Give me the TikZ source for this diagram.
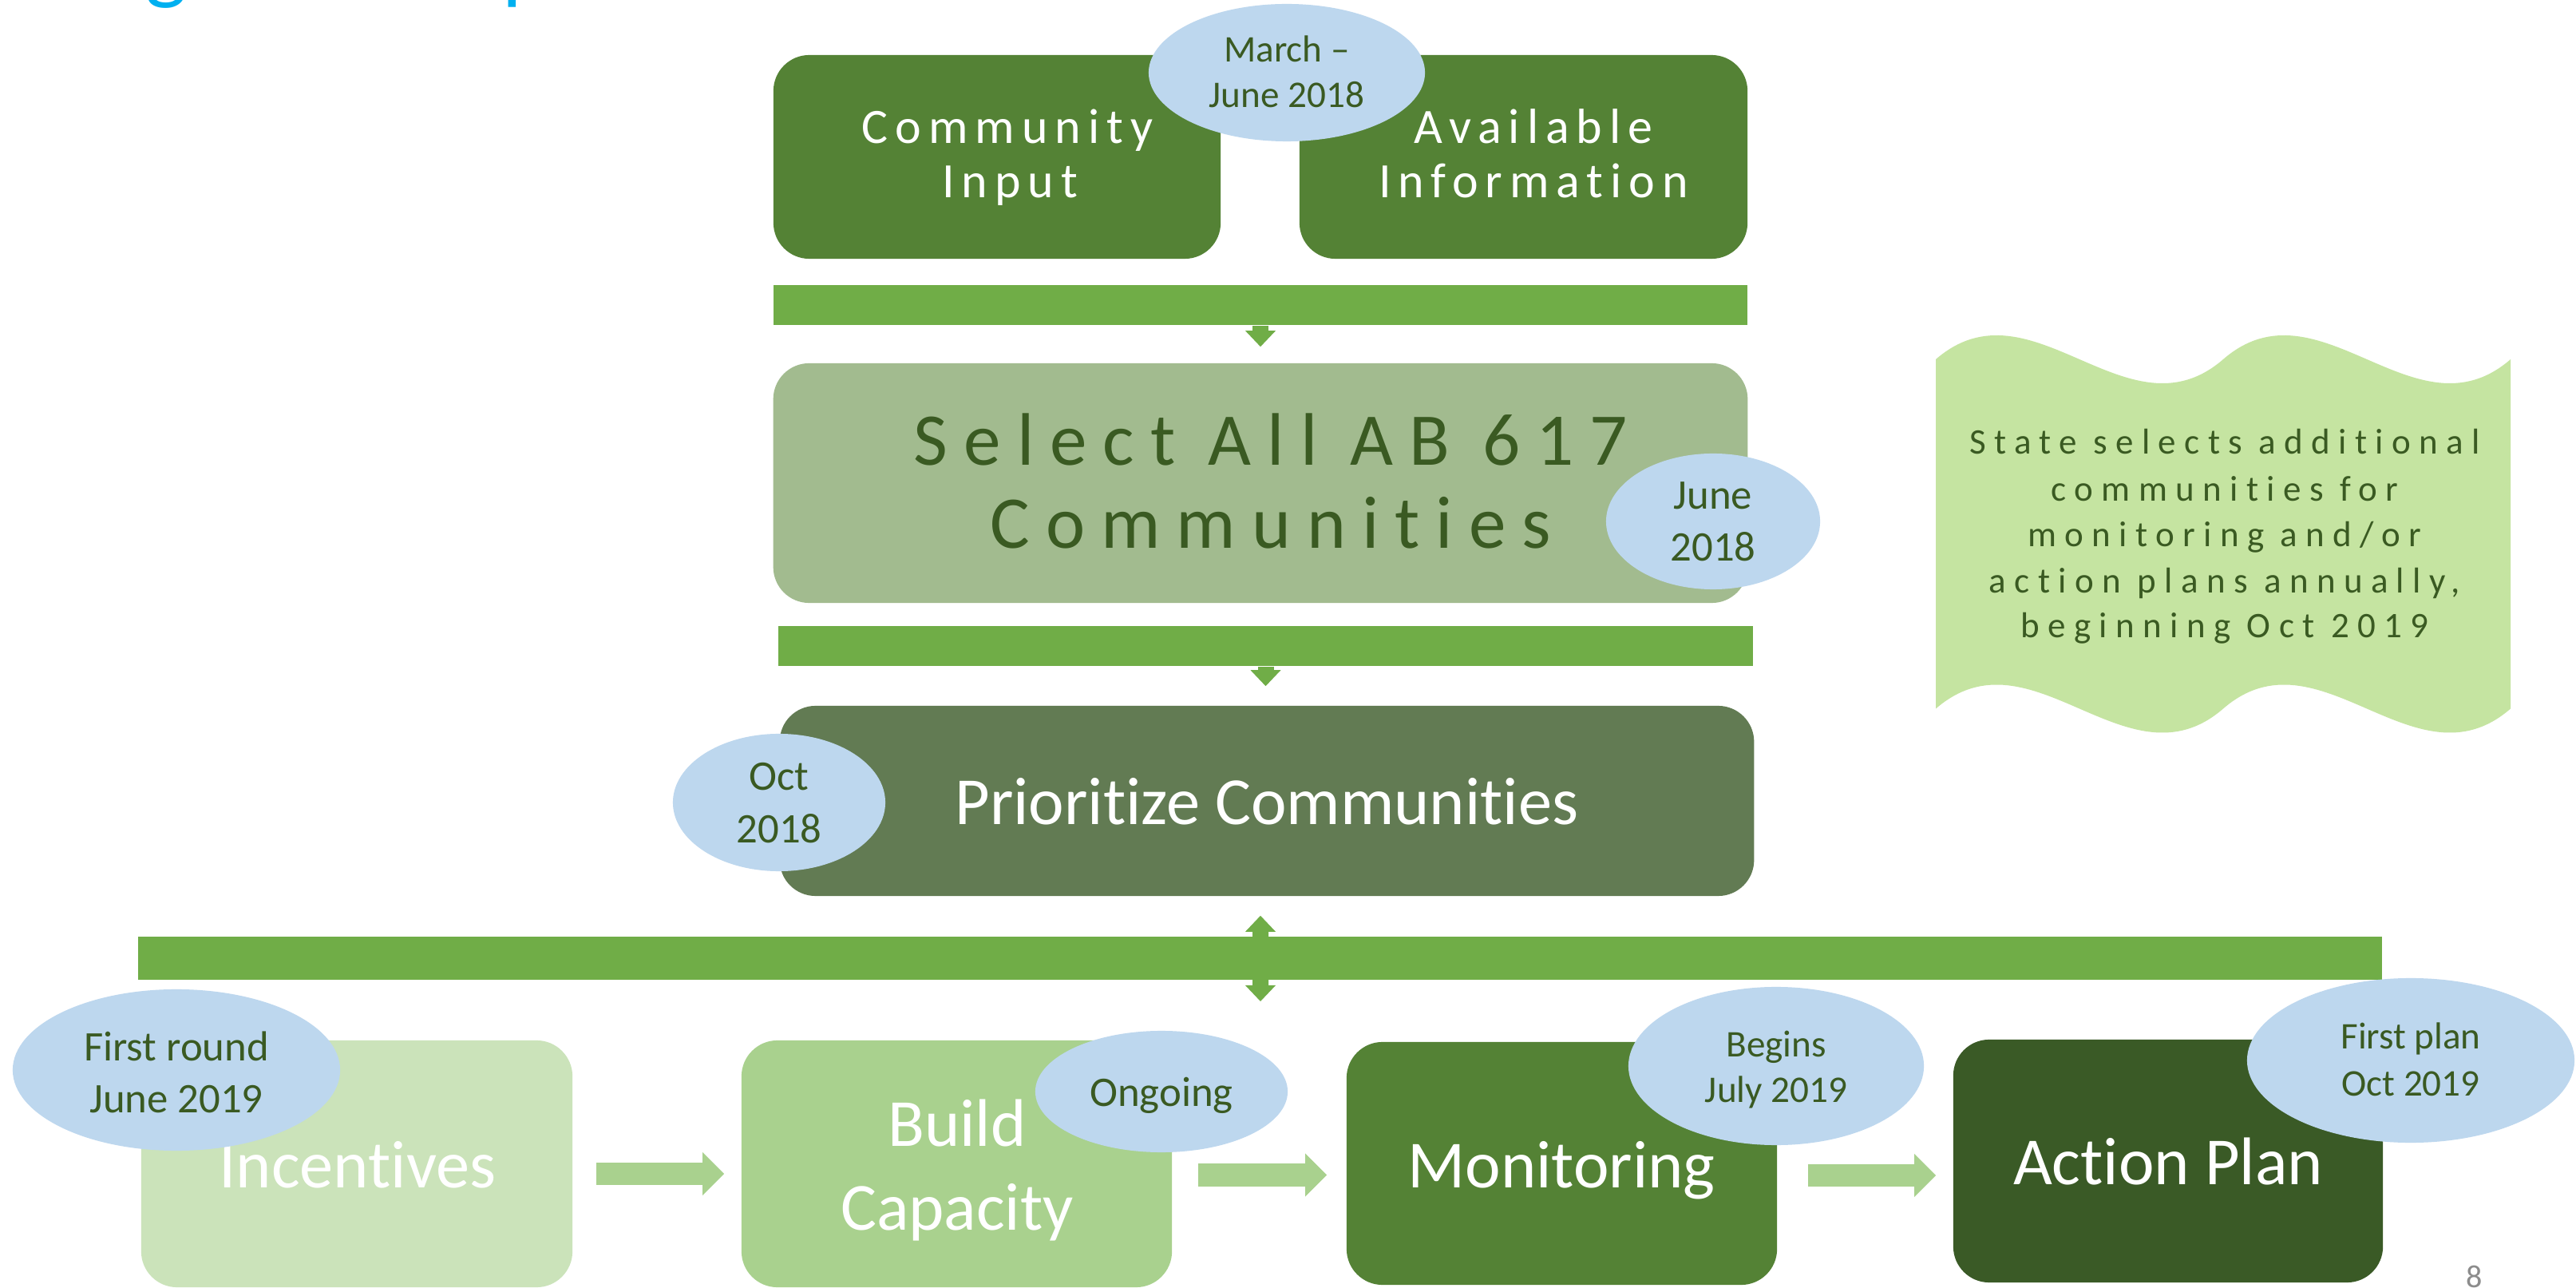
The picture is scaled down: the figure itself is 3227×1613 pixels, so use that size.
\documentclass[tikz,border=0pt]{standalone}
\usepackage{fontspec}
\setmainfont{Carlito}[Ligatures={NoCommon}]
\newfontfamily\spacedA[LetterSpace=14.5,Ligatures={NoCommon}]{Carlito}
\newfontfamily\spacedB[LetterSpace=21.5,Ligatures={NoCommon}]{Carlito}
\newfontfamily\spacedC[LetterSpace=23,Ligatures={NoCommon}]{Carlito}
\usetikzlibrary{shapes.geometric,arrows.meta,calc}
\definecolor{barg}{HTML}{70AD47}
\definecolor{midg}{HTML}{548235}
\definecolor{dkg}{HTML}{3A5A22}
\definecolor{sage}{HTML}{A2BB8F}
\definecolor{prioc}{HTML}{627B53}
\definecolor{lblue}{HTML}{BDD7EE}
\definecolor{incc}{HTML}{CBE3BA}
\definecolor{bcc}{HTML}{A9D18E}
\definecolor{apc}{HTML}{3A5A26}
\definecolor{wavec}{HTML}{C5E4A1}
\definecolor{titleblue}{HTML}{00B0F0}
\definecolor{pgray}{HTML}{8C8C8C}
\begin{document}
\begin{tikzpicture}[x=0.01cm, y=-0.01cm,
  box/.style={rectangle, rounded corners=0.45cm, inner sep=0pt, draw=none},
  bar/.style={rectangle, fill=barg, inner sep=0pt, draw=none},
  oval/.style={ellipse, fill=lblue, inner sep=0pt, draw=none},
  txt/.style={anchor=base, inner sep=0pt},
  fCI/.style={font=\spacedA\fontsize{17.6}{21}\selectfont, text=white},
  fSel/.style={font=\spacedB\fontsize{26.5}{30}\selectfont, text=dkg},
  fBig/.style={font=\fontsize{24}{28}\selectfont, text=white},
  fOvL/.style={font=\fontsize{15}{18}\selectfont, text=dkg},
  fOvS/.style={font=\fontsize{13.4}{16}\selectfont, text=dkg},
  fWave/.style={font=\spacedC\fontsize{12.8}{15}\selectfont, text=dkg},
  darrow/.style={draw=barg, line width=0.2cm, -{Triangle[width=0.38cm,length=0.2cm,line width=0pt]}},
  ddarrow/.style={draw=barg, line width=0.2cm, {Triangle[width=0.38cm,length=0.2cm,line width=0pt]}-{Triangle[width=0.38cm,length=0.2cm,line width=0pt]}},
  farrow/.style={draw=bcc, line width=0.28cm, -{Triangle[width=0.54cm,length=0.27cm,line width=0pt]}}
]
\fill[white] (0,0) rectangle (3227,1613);
\useasboundingbox (0,0) rectangle (3227,1613);

% title fragments (cut off at the top edge)
\node[inner sep=0pt, anchor=base west, font=\fontsize{31.3}{36}\selectfont, text=titleblue] (titg) at (182,-8) {g};
\node[inner sep=0pt, anchor=base west, font=\fontsize{31.3}{36}\selectfont, text=titleblue] (titp) at (629,-8) {p};

% top boxes
\node[box, fill=midg, minimum width=5.6cm, minimum height=2.55cm] (ci) at (1249,196.5) {};
\node[box, fill=midg, minimum width=5.61cm, minimum height=2.55cm] (ai) at (1908.5,196.5) {};
\node[txt, fCI] (ci1) at (1262,180) {Community};
\node[txt, fCI] (ci2) at (1265,248) {Input};
\node[txt, fCI] (ai1) at (1921,180) {Available};
\node[txt, fCI] (ai2) at (1921,248) {Information};

% bar 1 and select box
\node[bar, minimum width=12.2cm, minimum height=0.5cm] (bar1) at (1579,382) {};
\node[box, fill=sage, minimum width=12.2cm, minimum height=3cm] (sel) at (1579,605) {};
\node[txt, fSel] (sel1) at (1592,583) {Select All AB 617};
\node[txt, fSel] (sel2) at (1592,687) {Communities};
\draw[darrow, shorten >=0.2cm] (bar1.south) -- (sel.north);

% bar 2 and prioritize box
\node[bar, minimum width=12.21cm, minimum height=0.5cm] (bar2) at (1585.5,809) {};
\node[box, fill=prioc, minimum width=12.2cm, minimum height=2.38cm] (prio) at (1587,1003) {};
\node[txt, fBig] (prio1) at (1587,1032) {Prioritize Communities};
\draw[darrow, shorten >=0.24cm] (bar2.south) -- (bar2.south |- prio.north);

% double arrow and bar 3
\coordinate (dbot) at (1579,1254);
\draw[ddarrow, shorten <=0.24cm] ([xshift=-0.08cm]prio.south) -- (dbot);
\node[bar, minimum width=28.09cm, minimum height=0.54cm] (bar3) at (1578.5,1200) {};

% bottom row
\node[box, fill=incc, minimum width=5.4cm, minimum height=3.09cm] (inc) at (447,1457.5) {};
\node[box, fill=bcc, minimum width=5.39cm, minimum height=3.09cm] (bc) at (1198.5,1457.5) {};
\node[box, fill=midg, minimum width=5.39cm, minimum height=3.04cm] (mon) at (1956.5,1457) {};
\node[box, fill=apc, minimum width=5.38cm, minimum height=3.04cm] (ap) at (2716,1454) {};
\node[txt, fBig] (inc1) at (448,1487) {Incentives};
\node[txt, fBig] (bc1) at (1199,1435) {Build};
\node[txt, fBig] (bc2) at (1199,1540) {Capacity};
\node[txt, fBig] (mon1) at (1956,1487) {Monitoring};
\node[txt, fBig] (ap1) at (2716,1483) {Action Plan};
\draw[farrow] ($(inc.east)+(29,12.5)$) -- ($(bc.west)+(-21,12.5)$);
\draw[farrow] ($(bc.east)+(32,14)$) -- ($(mon.west)+(-24,14.5)$);
\draw[farrow] ($(mon.east)+(38,15)$) -- ($(ap.west)+(-21,18)$);

% date ovals
\node[oval, minimum width=3.46cm, minimum height=1.72cm] (march) at (1612,91) {};
\node[txt, fOvS] (march1) at (1612,78) {March –};
\node[txt, fOvS] (march2) at (1612,135) {June 2018};
\node[oval, minimum width=2.68cm, minimum height=1.70cm] (jun) at (2146,653) {};
\node[txt, fOvL] (jun1) at (2146,638) {June};
\node[txt, fOvL] (jun2) at (2146,703) {2018};
\node[oval, minimum width=2.66cm, minimum height=1.72cm] (oct) at (976,1005) {};
\node[txt, fOvL] (oct1) at (976,990) {Oct};
\node[txt, fOvL] (oct2) at (976,1055) {2018};
\node[oval, minimum width=4.1cm, minimum height=2.02cm] (fr) at (221,1340) {};
\node[txt, fOvL] (fr1) at (221,1328) {First round};
\node[txt, fOvL] (fr2) at (221,1393) {June 2019};
\node[oval, minimum width=3.16cm, minimum height=1.52cm] (ong) at (1455,1367) {};
\node[txt, fOvL] (ong1) at (1455,1385) {Ongoing};
\node[oval, minimum width=3.7cm, minimum height=1.98cm] (beg) at (2225,1335) {};
\node[txt, fOvS] (beg1) at (2225,1323) {Begins};
\node[txt, fOvS] (beg2) at (2225,1380) {July 2019};
\node[oval, minimum width=4.1cm, minimum height=2.06cm] (fp) at (3020,1328) {};
\node[txt, fOvS] (fp1) at (3020,1313) {First plan};
\node[txt, fOvS] (fp2) at (3020,1372) {Oct 2019};

% wave note
\fill[wavec] (2425,450) .. controls (2545,346) and (2665,554) .. (2785,450)
  .. controls (2905,346) and (3025,554) .. (3145,450)
  -- (3145,887.5) .. controls (3025,991.5) and (2905,783.5) .. (2785,887.5)
  .. controls (2665,991.5) and (2545,783.5) .. (2425,887.5) -- cycle;
\node[txt, fWave] (w1) at (2787,569) {State selects additional};
\node[txt, fWave] (w2) at (2787,628) {communities for};
\node[txt, fWave] (w3) at (2787,685) {monitoring and/or};
\node[txt, fWave] (w4) at (2787,743) {action plans annually,};
\node[txt, fWave] (w5) at (2787,799) {beginning Oct 2019};

% page number
\node[txt, font=\fontsize{11.4}{13}\selectfont, text=pgray] (pnum) at (3100,1612) {8};
\end{tikzpicture}
\end{document}
